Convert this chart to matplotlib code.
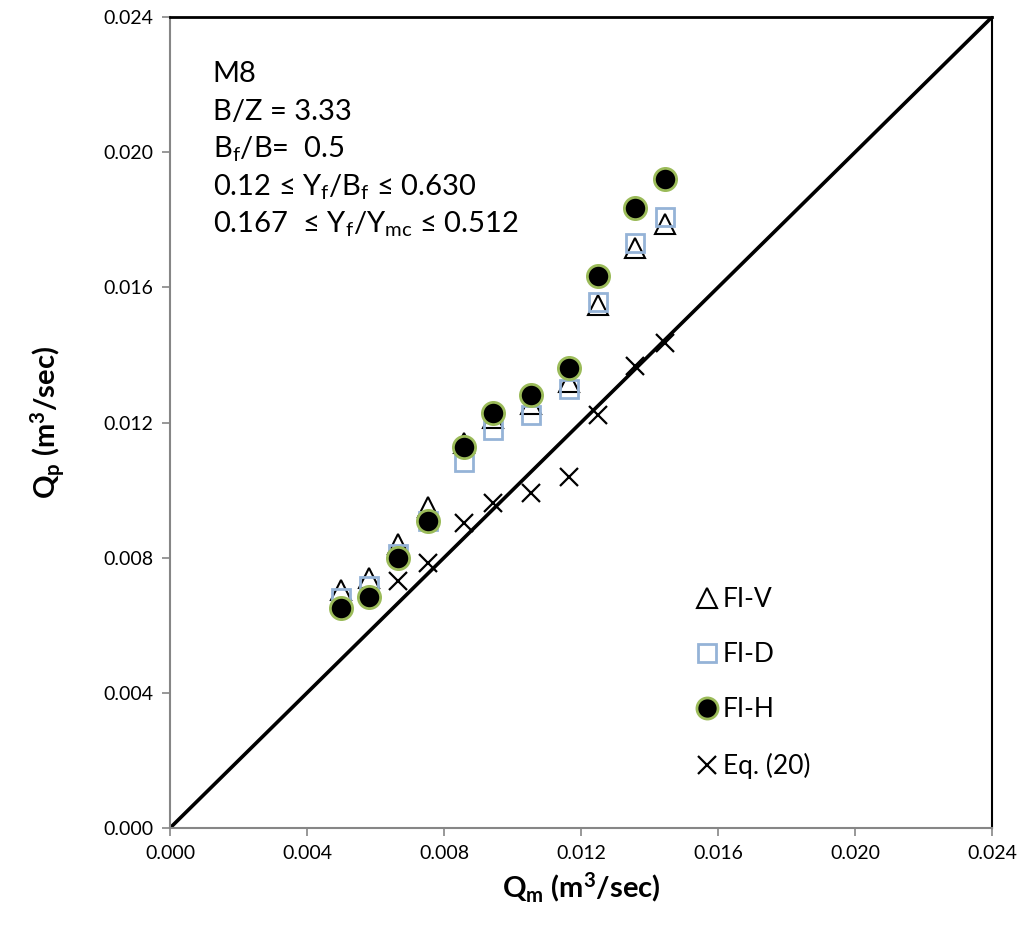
import numpy as np
import matplotlib
matplotlib.use('Agg')
import matplotlib.pyplot as plt

plt.rcParams['font.family'] = ['Lato', 'DejaVu Sans']
plt.rcParams['mathtext.fontset'] = 'custom'
plt.rcParams['mathtext.rm'] = 'Lato'
plt.rcParams['mathtext.it'] = 'Lato:italic'
plt.rcParams['mathtext.bf'] = 'Lato:bold'

# measured discharge (x) and predicted discharges (y)
q_m = [0.00500, 0.00582, 0.00666, 0.00752, 0.00859, 0.00942, 0.01053, 0.01164, 0.01249, 0.01359, 0.01444]
fi_v = [0.00704, 0.00740, 0.00840, 0.00950, 0.01140, 0.01213, 0.01255, 0.01320, 0.01548, 0.01716, 0.01787]
fi_d = [0.00680, 0.00716, 0.00810, 0.00910, 0.01084, 0.01178, 0.01222, 0.01298, 0.01557, 0.01730, 0.01809]
fi_h = [0.00650, 0.00685, 0.00800, 0.00910, 0.01127, 0.01229, 0.01281, 0.01360, 0.01634, 0.01836, 0.01920]
q_m_eq = [0.00666, 0.00752, 0.00859, 0.00942, 0.01053, 0.01164, 0.01249, 0.01359, 0.01444]
eq20 = [0.00732, 0.00783, 0.00902, 0.00961, 0.00990, 0.01040, 0.01222, 0.01367, 0.01435]
ticks = [0.000, 0.004, 0.008, 0.012, 0.016, 0.020, 0.024]

info_lines = ["M8",
              "B/Z = 3.33",
              "B$_\\mathrm{f}$/B=  0.5",
              "0.12 \u2264 Y$_\\mathrm{f}$/B$_\\mathrm{f}$ \u2264 0.630",
              "0.167  \u2264 Y$_\\mathrm{f}$/Y$_\\mathrm{mc}$ \u2264 0.512"]

fig = plt.figure(figsize=(10.26, 9.26), dpi=100)
ax = fig.add_axes([0.1657, 0.1058, 0.8012, 0.8758])

ax.plot([0, 0.024], [0, 0.024], color='black', lw=2.6, zorder=1)

ax.plot(q_m, fi_v, linestyle='none', marker='^', ms=15, mfc='white', mec='black', mew=1.5, label='FI-V', zorder=2)
ax.plot(q_m, fi_d, linestyle='none', marker='s', ms=13, mfc='none', mec='#95b3d7', mew=2, label='FI-D', zorder=3)
ax.plot(q_m, fi_h, linestyle='none', marker='o', ms=16, mfc='black', mec='#9bbb59', mew=2, label='FI-H', zorder=4)
ax.plot(q_m_eq, eq20, linestyle='none', marker='x', ms=13, mec='black', mew=1.6, label='Eq. (20)', zorder=5)

ax.set_xlim(0, 0.024)
ax.set_ylim(0, 0.024)
ax.set_xticks(ticks)
ax.set_yticks(ticks)
ax.set_xticklabels(['%.3f' % t for t in ticks])
ax.set_yticklabels(['%.3f' % t for t in ticks])
ax.tick_params(direction='out', length=6, width=1.2, color='#868686', labelsize=14, pad=6)

ax.spines['left'].set_color('#868686')
ax.spines['bottom'].set_color('#868686')
ax.spines['left'].set_linewidth(1.5)
ax.spines['bottom'].set_linewidth(1.5)
ax.spines['top'].set_color('black')
ax.spines['right'].set_color('black')
ax.spines['top'].set_linewidth(2)
ax.spines['right'].set_linewidth(1.5)

ax.set_xlabel('Q$_\\mathbf{m}$ (m$^\\mathbf{3}$/sec)', fontsize=21, fontweight='bold', labelpad=6)
ax.set_ylabel('Q$_\\mathbf{p}$ (m$^\\mathbf{3}$/sec)', fontsize=21, fontweight='bold', labelpad=26)

for i, line in enumerate(info_lines):
    ax.text(0.052, 0.93 - i * 0.0465, line, transform=ax.transAxes, fontsize=21, va='center', ha='left')

ax.legend(loc='center left', bbox_to_anchor=(0.615, 0.179), frameon=False, fontsize=19,
          handlelength=0.6, handletextpad=0.3, labelspacing=1.15, markerscale=0.95)

fig.savefig('out.png', dpi=100)
